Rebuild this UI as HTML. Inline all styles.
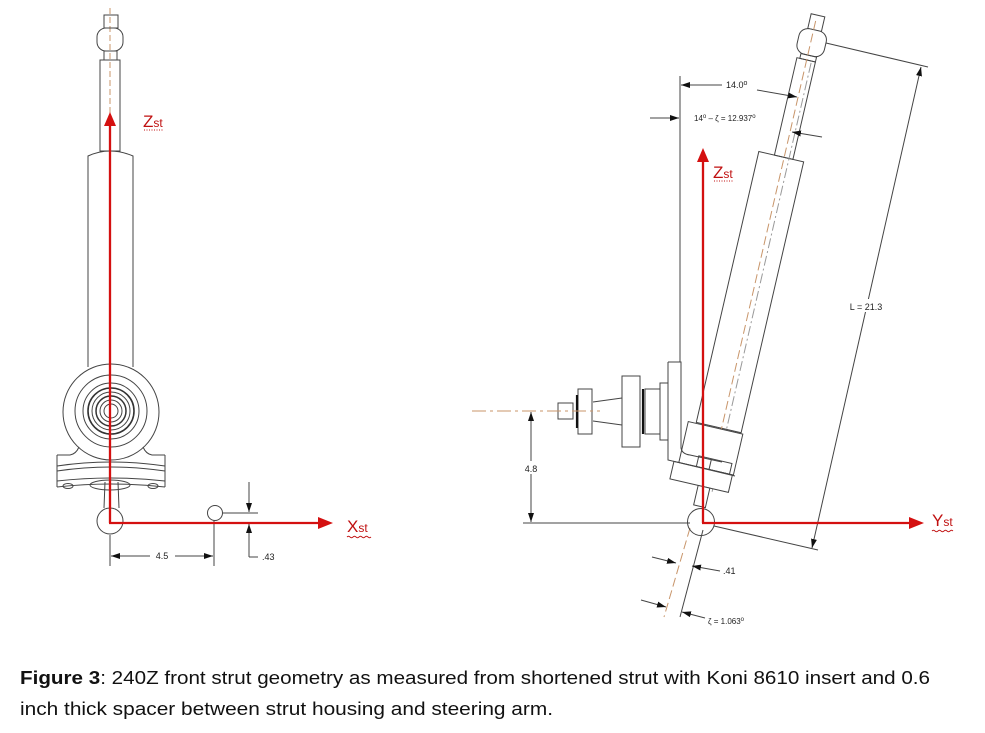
<!DOCTYPE html>
<html><head><meta charset="utf-8"><style>
html,body{margin:0;padding:0;background:#fff;}
svg{display:block;}
text{font-family:"Liberation Sans",Arial,sans-serif;}
</style></head><body>
<svg width="985" height="733" viewBox="0 0 985 733" xmlns="http://www.w3.org/2000/svg">
<defs>
<marker id="ah" markerUnits="userSpaceOnUse" markerWidth="9" markerHeight="6" refX="9" refY="3" orient="auto-start-reverse"><path d="M0,0 L9,3 L0,6 z" fill="#111"/></marker>
</defs>
<rect width="985" height="733" fill="#fff"/>

<!-- ================= LEFT STRUT ================= -->
<g fill="none" stroke="#444" stroke-width="1">
  <line x1="110" y1="8" x2="110" y2="113" stroke="#c8956a" stroke-dasharray="6,3"/>
  <rect x="104" y="15" width="14" height="13"/>
  <rect x="97" y="28" width="26" height="23" rx="9"/>
  <rect x="104" y="51" width="13" height="9"/>
  <rect x="100" y="60" width="20" height="91"/>
  <path d="M88,367 L88,156 Q110,146 133,156 L133,367"/>
  <circle cx="111" cy="412" r="48" fill="#fff"/>
  <circle cx="111" cy="411" r="36"/>
  <circle cx="111" cy="411" r="28"/>
  <circle cx="111" cy="411" r="23" stroke-width="1.6" stroke="#333"/>
  <circle cx="111" cy="411" r="19"/>
  <circle cx="111" cy="411" r="15" stroke-width="1.5" stroke="#333"/>
  <circle cx="111" cy="411" r="11"/>
  <circle cx="111" cy="411" r="7"/>
  <path d="M57,455 L70,455 Q76,454 79,447"/>
  <path d="M165,455 L152,455 Q146,454 143,447"/>
  <line x1="57" y1="455" x2="57" y2="487"/>
  <line x1="165" y1="455" x2="165" y2="487"/>
  <path d="M57,466 Q111,458 165,466"/>
  <path d="M57,471 Q111,463 165,471"/>
  <path d="M57,481 Q111,475 165,481"/>
  <path d="M57,487 Q111,481 165,487"/>
  <ellipse cx="68" cy="486" rx="5" ry="2.5"/>
  <ellipse cx="153" cy="486" rx="5" ry="2.5"/>
  <ellipse cx="110" cy="485" rx="20" ry="5"/>
  <path d="M105,482 L104,508 M118,482 L119,508"/>
  <circle cx="110" cy="521" r="13" fill="#fff"/>
  <!-- dims -->
  <line x1="110" y1="535" x2="110" y2="566"/>
  <line x1="214" y1="521" x2="214" y2="566"/>
  <circle cx="215" cy="513" r="7.5" fill="#fff"/>
  <line x1="222" y1="513" x2="258" y2="513"/>
  <line x1="249" y1="482" x2="249" y2="512" marker-end="url(#ah)"/>
  <line x1="249" y1="557" x2="249" y2="524" marker-end="url(#ah)"/>
  <line x1="249" y1="557" x2="258" y2="557"/>
  <line x1="111" y1="556" x2="150" y2="556" marker-start="url(#ah)"/>
  <line x1="175" y1="556" x2="213" y2="556" marker-end="url(#ah)"/>
</g>
<text x="162" y="559" font-size="9" fill="#222" text-anchor="middle">4.5</text>
<text x="262" y="560" font-size="9" fill="#222">.43</text>

<!-- red axes left -->
<g stroke="#d41010" stroke-width="2.3" fill="none">
  <line x1="110" y1="124" x2="110" y2="523"/>
  <line x1="109" y1="523" x2="320" y2="523"/>
</g>
<polygon points="110,112 104,126 116,126" fill="#d41010"/>
<polygon points="333,523 318,517 318,529" fill="#d41010"/>
<text x="143" y="127" font-size="17" fill="#c01010">Z<tspan font-size="12">st</tspan></text>
<line x1="144" y1="130" x2="164" y2="130" stroke="#c01010" stroke-width="1" stroke-dasharray="1,1.5"/>
<text x="347" y="532" font-size="17" fill="#c01010">X<tspan font-size="12">st</tspan></text>
<path d="M347,537 q1.5,-1.5 3,0 t3,0 t3,0 t3,0 t3,0 t3,0 t3,0 t3,0" stroke="#c01010" stroke-width="0.9" fill="none"/>

<!-- ================= RIGHT STRUT ================= -->
<g fill="none" stroke="#444" stroke-width="1">
  <!-- vertical reference line -->
  <line x1="680" y1="76" x2="680" y2="362"/>
  <g transform="rotate(13 701 522)">
    <rect x="694" y="2" width="14" height="15" fill="#fff"/>
    <rect x="687" y="17" width="28" height="26" rx="9" fill="#fff"/>
    <rect x="693" y="43" width="16" height="5"/>
    <rect x="690" y="48" width="19" height="100"/>
    <rect x="674" y="148" width="46" height="278"/>
    <line x1="700" y1="8" x2="700" y2="500" stroke="#c8956a" stroke-dasharray="9,4"/>
    <line x1="705" y1="50" x2="705" y2="490" stroke="#999" stroke-dasharray="10,3,2,3"/>
    <rect x="666" y="427" width="56" height="42" fill="#fff"/>
    <rect x="684" y="458" width="34" height="11"/>
    <line x1="697" y1="458" x2="697" y2="469"/>
    <rect x="661" y="469" width="60" height="18" fill="#fff"/>
    <rect x="690" y="487" width="12" height="20" fill="#fff"/>
  </g>
  <!-- steering arm plate -->
  <path d="M668,362 L681,362 L681,448 Q682,454 690,455 L722,462"/>
  <path d="M668,362 L668,460 L735,476"/>
  <!-- hub -->
  <rect x="660" y="383" width="8" height="57" fill="#fff"/>
  <rect x="645" y="389" width="15" height="45" fill="#fff"/>
  <line x1="643" y1="389" x2="643" y2="434" stroke="#111" stroke-width="2.2"/>
  <rect x="622" y="376" width="18" height="71" fill="#fff"/>
  <line x1="593" y1="402" x2="622" y2="398"/>
  <line x1="593" y1="421" x2="622" y2="425"/>
  <rect x="578" y="389" width="14" height="45" fill="#fff"/>
  <line x1="577" y1="395" x2="577" y2="428" stroke="#111" stroke-width="2.2"/>
  <rect x="558" y="403" width="15" height="16" fill="#fff"/>
  <line x1="472" y1="411" x2="600" y2="411" stroke="#c8956a" stroke-dasharray="14,4,3,4"/>
  <!-- lower axis lines -->
  <line x1="690" y1="528" x2="664" y2="617" stroke="#c8956a" stroke-dasharray="9,4"/>
  <line x1="703" y1="530" x2="680" y2="617"/>
  <!-- ball -->
  <circle cx="701" cy="522" r="13.5"/>
  <!-- 4.8 dim -->
  <line x1="523" y1="523" x2="690" y2="523"/>
  <line x1="531" y1="412" x2="531" y2="522" marker-start="url(#ah)" marker-end="url(#ah)"/>
  <!-- L dim -->
  <line x1="826" y1="43" x2="928" y2="67"/>
  <line x1="714" y1="526" x2="818" y2="550"/>
  <line x1="812" y1="548" x2="921" y2="67" marker-start="url(#ah)" marker-end="url(#ah)"/>
  <!-- 14.0 dims -->
  <line x1="722" y1="85" x2="681" y2="85" marker-end="url(#ah)"/>
  <line x1="757" y1="90" x2="797" y2="97" marker-end="url(#ah)"/>
  <line x1="650" y1="118" x2="679" y2="118" marker-end="url(#ah)"/>
  <line x1="822" y1="137" x2="792" y2="132" marker-end="url(#ah)"/>
  <!-- bottom zeta dims -->
  <line x1="652" y1="557" x2="676" y2="563" marker-end="url(#ah)"/>
  <line x1="720" y1="571" x2="692" y2="566" marker-end="url(#ah)"/>
  <line x1="641" y1="600" x2="666" y2="607" marker-end="url(#ah)"/>
  <line x1="705" y1="618" x2="682" y2="612" marker-end="url(#ah)"/>
</g>
<rect x="522" y="461" width="18" height="13" fill="#fff"/>
<text x="531" y="472" font-size="9" fill="#222" text-anchor="middle">4.8</text>
<rect x="842" y="299" width="48" height="13" fill="#fff"/>
<text x="866" y="310" font-size="9" fill="#222" text-anchor="middle">L = 21.3</text>
<text x="726" y="88" font-size="9" fill="#222">14.0<tspan font-size="7" dy="-3">o</tspan></text>
<text x="694" y="121" font-size="8" fill="#222">14<tspan font-size="6" dy="-3">o</tspan><tspan dy="3"> – ζ = 12.937</tspan><tspan font-size="6" dy="-3">o</tspan></text>
<text x="723" y="574" font-size="9" fill="#222">.41</text>
<text x="708" y="624" font-size="8" fill="#222">ζ = 1.063<tspan font-size="6" dy="-3">o</tspan></text>

<!-- red axes right -->
<g stroke="#d41010" stroke-width="2.3" fill="none">
  <line x1="703" y1="160" x2="703" y2="523"/>
  <line x1="702" y1="523" x2="910" y2="523"/>
</g>
<polygon points="703,148 697,162 709,162" fill="#d41010"/>
<polygon points="924,523 909,517 909,529" fill="#d41010"/>
<text x="713" y="178" font-size="17" fill="#c01010">Z<tspan font-size="12">st</tspan></text>
<line x1="714" y1="181" x2="734" y2="181" stroke="#c01010" stroke-width="1" stroke-dasharray="1,1.5"/>
<text x="932" y="526" font-size="17" fill="#c01010">Y<tspan font-size="12">st</tspan></text>
<path d="M932,531 q1.5,-1.5 3,0 t3,0 t3,0 t3,0 t3,0 t3,0 t3,0" stroke="#c01010" stroke-width="0.9" fill="none"/>

<!-- ================= CAPTION ================= -->
<text x="20" y="684" font-size="18" fill="#111" textLength="910" lengthAdjust="spacingAndGlyphs"><tspan font-weight="bold">Figure 3</tspan>:  240Z front strut geometry as measured from shortened strut with Koni 8610 insert and 0.6</text>
<text x="20" y="715" font-size="18" fill="#111" textLength="533" lengthAdjust="spacingAndGlyphs">inch thick spacer between strut housing and steering arm.</text>
</svg>
</body></html>
